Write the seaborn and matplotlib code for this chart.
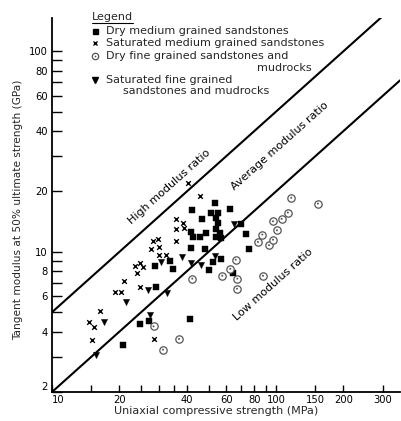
import numpy as np
import pandas as pd
import matplotlib
matplotlib.use("Agg")
import matplotlib.pyplot as plt
import seaborn as sns
from matplotlib.ticker import FixedLocator, FixedFormatter, NullLocator

# ---------------- data (UCS in MPa, tangent modulus in GPa) ----------------
dry_med_ucs = [20.7, 24.6, 27.0, 29.0, 28.7, 33.7, 34.7, 41.2, 42.2, 41.9, 42.6,
               45.6, 48.9, 46.9, 41.9, 48.0, 50.2, 53.2, 51.4, 55.1, 54.2, 55.1,
               53.8, 56.1, 54.2, 57.0, 52.3, 57.0, 62.1, 64.3, 70.0, 73.7, 75.8]
dry_med_E = [3.44, 4.37, 4.54, 6.65, 8.53, 9.05, 8.21, 4.64, 16.1, 12.5, 11.9,
             11.9, 12.4, 14.5, 10.45, 10.3, 8.15, 17.5, 15.6, 15.7, 14.8, 13.9,
             13.0, 12.4, 11.9, 11.7, 8.87, 9.25, 16.4, 7.85, 13.7, 12.3, 10.3]

sat_med_ucs = [14.6, 15.4, 16.3, 15.1, 19.05, 20.4, 21.0, 23.4, 24.6, 25.4, 23.9,
               24.8, 27.8, 28.2, 29.7, 29.9, 30.2, 32.4, 35.6, 35.6, 35.6, 38.4,
               38.7, 40.5, 45.6, 28.4]
sat_med_E = [4.47, 4.20, 5.05, 3.62, 6.31, 6.31, 7.13, 8.53, 8.80, 8.41, 7.85,
             6.65, 10.3, 11.3, 11.6, 10.6, 9.68, 9.68, 11.3, 13.0, 14.5, 13.9,
             13.2, 22.0, 18.9, 3.69]

dry_fine_ucs = [28.4, 31.3, 36.9, 42.3, 57.6, 62.5, 66.1, 67.2, 67.0, 87.5, 83.1,
                86.9, 93.1, 97.0, 97.0, 101, 106, 113, 117, 154]
dry_fine_E = [4.25, 3.25, 3.68, 7.35, 7.6, 8.23, 9.14, 7.35, 6.55, 7.6, 11.2,
              12.2, 10.8, 11.5, 14.2, 12.8, 14.6, 15.7, 18.6, 17.4]

sat_fine_ucs = [15.8, 17.0, 21.5, 26.8, 27.5, 30.8, 32.6, 38.0, 41.9, 46.4, 53.2, 64.7]
sat_fine_E = [3.07, 4.45, 5.62, 6.48, 4.86, 8.9, 6.25, 9.4, 8.8, 8.63, 9.5, 13.7]

ratio_names = ["High", "Average"]
ratio_values = [500, 200]          # modulus ratio E / UCS
zone_labels = ["High modulus ratio", "Average modulus ratio", "Low modulus ratio"]
zone_label_pos = [(33.5, 21.2), (104, 33.6), (97, 6.9)]

x_ticks = [10, 15, 20, 25, 30, 35, 40, 50, 60, 70, 80, 90, 100, 150, 200, 300]
x_labels = ["10", "", "20", "", "", "", "40", "", "60", "", "80", "", "100", "150", "200", "300"]
y_ticks = [2, 3, 4, 5, 6, 7, 8, 9, 10, 20, 30, 40, 50, 60, 70, 80, 90, 100]
y_labels = ["2", "", "4", "", "6", "", "8", "", "10", "20", "", "40", "", "60", "", "80", "", "100"]

legend_labels = ["Dry medium grained sandstones",
                 "Saturated medium grained sandstones",
                 "Dry fine grained sandstones and",
                 "Saturated fine grained"]

# ---------------- figure ----------------
sns.set_style("white")
plt.rcParams["font.family"] = ["DejaVu Sans"]
W, H = 402, 421
fig = plt.figure(figsize=(W / 100, H / 100), dpi=100)
ax = fig.add_axes([52 / W, 29 / H, 348 / W, 374 / H])
ax.set_xscale("log")
ax.set_yscale("log")
XMIN, XMAX, YMIN, YMAX = 10, 358, 2, 146.6
ax.set_xlim(XMIN, XMAX)
ax.set_ylim(YMIN, YMAX)

df_dm = pd.DataFrame({"ucs": dry_med_ucs, "E": dry_med_E})
df_sm = pd.DataFrame({"ucs": sat_med_ucs, "E": sat_med_E})
df_df = pd.DataFrame({"ucs": dry_fine_ucs, "E": dry_fine_E})
df_sf = pd.DataFrame({"ucs": sat_fine_ucs, "E": sat_fine_E})

# ratio lines
xs = np.array([XMIN, XMAX])
for r in ratio_values:
    sns.lineplot(x=xs, y=r * xs / 1000.0, color="black", linewidth=1.5, ax=ax)

sns.scatterplot(data=df_dm, x="ucs", y="E", marker="s", s=20, color="black",
                edgecolor="black", linewidth=0.3, ax=ax, zorder=3)
sns.scatterplot(data=df_sm, x="ucs", y="E", marker="x", s=11, color="black",
                linewidth=1.0, ax=ax, zorder=3)
sns.scatterplot(data=df_df, x="ucs", y="E", marker="o", s=28, facecolor="white",
                edgecolor="#555555", linewidth=0.9, ax=ax, zorder=3)
sns.scatterplot(data=df_df, x="ucs", y="E", marker="o", s=2, color="#555555",
                edgecolor="none", ax=ax, zorder=4)
sns.scatterplot(data=df_sf, x="ucs", y="E", marker="v", s=20, color="black",
                edgecolor="black", linewidth=0.3, ax=ax, zorder=3)

# zone labels, rotated along the lines
p1 = ax.transData.transform((10, 2))
p2 = ax.transData.transform((100, 20))
ang = np.degrees(np.arctan2(p2[1] - p1[1], p2[0] - p1[0]))
for lab, (lx, ly) in zip(zone_labels, zone_label_pos):
    ax.text(lx, ly, lab, rotation=ang, rotation_mode="anchor", ha="center",
            va="center", fontsize=8, color="black")

# axes styling
for s in ["top", "right"]:
    ax.spines[s].set_visible(False)
for s in ["left", "bottom"]:
    ax.spines[s].set_linewidth(1.3)
    ax.spines[s].set_color("black")
ax.xaxis.set_major_locator(FixedLocator(x_ticks))
ax.xaxis.set_major_formatter(FixedFormatter(x_labels))
ax.xaxis.set_minor_locator(NullLocator())
ax.yaxis.set_major_locator(FixedLocator(y_ticks))
ax.yaxis.set_major_formatter(FixedFormatter(y_labels))
ax.yaxis.set_minor_locator(NullLocator())
ax.tick_params(axis="x", direction="in", length=5, width=1.0, pad=2, labelsize=7.2,
               bottom=True, colors="black")
ax.tick_params(axis="y", direction="in", length=7, width=1.0, pad=3, labelsize=7.2,
               left=True, colors="black")
ax.set_xlabel("Uniaxial compressive strength (MPa)", fontsize=8)
ax.set_ylabel("Tangent modulus at 50% ultimate strength (GPa)", fontsize=7.6)
ax.xaxis.set_label_coords((216 - 52) / 348, -(411 - 392) / 374)
ax.xaxis.label.set_va("center")
ax.yaxis.set_label_coords(-(52 - 18) / 348, (392 - 210) / 374)
ax.yaxis.label.set_va("center")

fig.canvas.draw()
first_x = ax.get_xticklabels()[0]
first_x.set_horizontalalignment("left")
first_y = ax.get_yticklabels()[0]
first_y.set_verticalalignment("bottom")

# manual legend
def fx(px):
    return px / W

def fy(py):
    return 1 - py / H

fs = 8
t = fig.text(fx(92), fy(17), "Legend", fontsize=fs, ha="left", va="center")
fig.canvas.draw()
bb = t.get_window_extent()
fig.add_artist(plt.Line2D([bb.x0 / W, bb.x1 / W], [fy(22.5), fy(22.5)],
                          transform=fig.transFigure, color="black", linewidth=0.8))
rows_y = [31, 43, 56, 80]
mk = [dict(marker="s", ms=3.6, mfc="black", mec="black"),
      dict(marker="x", ms=3.0, mfc="black", mec="black", mew=1.0),
      dict(marker="o", ms=4.6, mfc="white", mec="#555555", mew=0.9),
      dict(marker="v", ms=4.0, mfc="black", mec="black")]
for lab, ry, m in zip(legend_labels, rows_y, mk):
    fig.add_artist(plt.Line2D([fx(95)], [fy(ry)], transform=fig.transFigure,
                              linestyle="none", **m))
    fig.text(fx(106), fy(ry), lab, fontsize=fs, ha="left", va="center")
fig.add_artist(plt.Line2D([fx(95)], [fy(56)], transform=fig.transFigure,
                          linestyle="none", marker="o", ms=1.2, mfc="#555555", mec="none"))
fig.text(fx(312), fy(68), "mudrocks", fontsize=fs, ha="right", va="center")
fig.text(fx(123), fy(91), "sandstones and mudrocks", fontsize=fs, ha="left", va="center")

fig.savefig("out.png", dpi=100)
